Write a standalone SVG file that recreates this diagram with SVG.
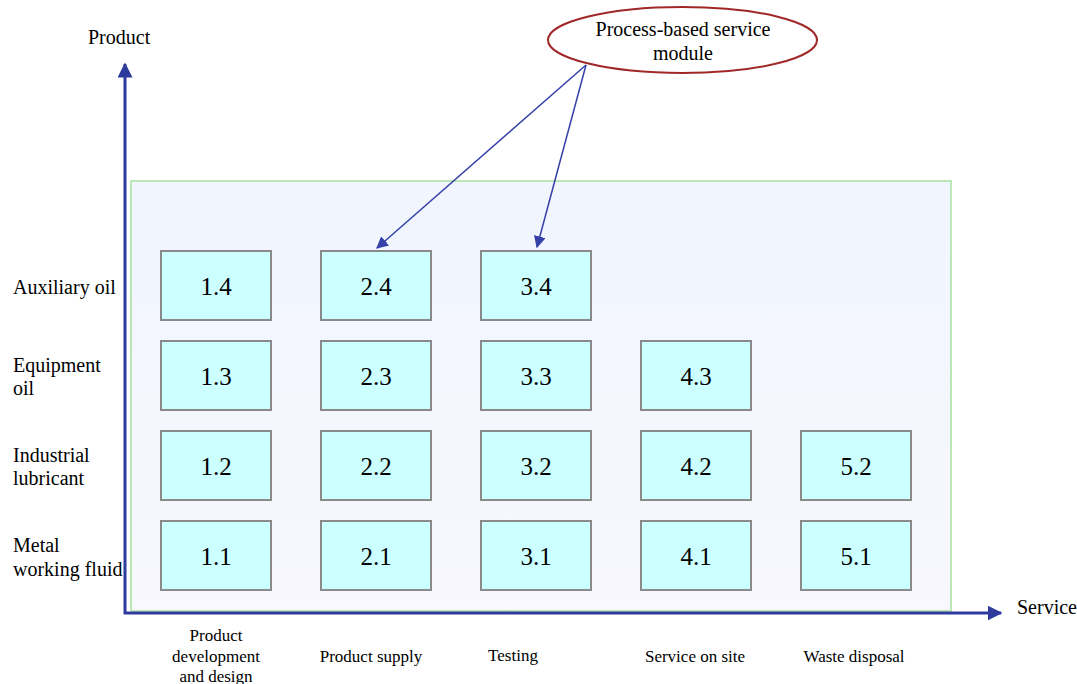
<svg xmlns="http://www.w3.org/2000/svg" width="1077" height="684" viewBox="0 0 1077 684" font-family="'Liberation Serif', 'DejaVu Serif', serif">
  <style>
    text { font-family: 'Liberation Serif', 'DejaVu Serif', serif; fill: #000; }
    .cell rect { fill: #ccffff; stroke: #8a8a8a; stroke-width: 2; }
    .cell text { font-size: 25px; text-anchor: middle; }
    .rowlab { font-size: 20px; }
    .collab { font-size: 17px; text-anchor: middle; }
    .axis { stroke: #2f3b9c; stroke-width: 3; fill: none; }
    .link { stroke: #3540a8; stroke-width: 1.5; fill: none; }
  </style>
  <defs>
    <linearGradient id="panelFill" x1="0" y1="0" x2="0" y2="1">
      <stop offset="0" stop-color="#f0f5fe"/>
      <stop offset="1" stop-color="#f8f8fe"/>
    </linearGradient>
    <marker id="axisHead" viewBox="0 0 10 10" refX="9" refY="5" markerWidth="5" markerHeight="5" orient="auto" markerUnits="strokeWidth">
      <path d="M0,0 L10,5 L0,10 z" fill="#2f3b9c"/>
    </marker>
    <marker id="linkHead" viewBox="0 0 10 10" refX="9" refY="5" markerWidth="8" markerHeight="8" orient="auto" markerUnits="strokeWidth">
      <path d="M0,0 L10,5 L0,10 z" fill="#3540a8"/>
    </marker>
  </defs>

  <!-- background panel -->
  <rect id="panel" x="131" y="181" width="820" height="430" fill="url(#panelFill)" stroke="#a8e0a0" stroke-width="1.5"/>

  <!-- axes -->
  <g id="axes">
    <line class="axis" x1="125" y1="614" x2="125" y2="64" marker-end="url(#axisHead)"/>
    <line class="axis" x1="124" y1="613" x2="1001" y2="613" marker-end="url(#axisHead)"/>
    <text x="88" y="44" font-size="20">Product</text>
    <text x="1017" y="614" font-size="20">Service</text>
  </g>

  <!-- row labels -->
  <g id="row-labels">
    <text class="rowlab" x="13" y="294">Auxiliary oil</text>
    <text class="rowlab" x="13" y="372">Equipment</text>
    <text class="rowlab" x="13" y="395">oil</text>
    <text class="rowlab" x="13" y="462">Industrial</text>
    <text class="rowlab" x="13" y="485">lubricant</text>
    <text class="rowlab" x="13" y="552">Metal</text>
    <text class="rowlab" x="13" y="576">working fluid</text>
  </g>

  <!-- column labels -->
  <g id="column-labels">
    <text class="collab" x="216" y="641">Product</text>
    <text class="collab" x="216" y="662">development</text>
    <text class="collab" x="216" y="682">and design</text>
    <text class="collab" x="371" y="662">Product supply</text>
    <text class="collab" x="513" y="661">Testing</text>
    <text class="collab" x="695" y="662">Service on site</text>
    <text class="collab" x="854" y="662">Waste disposal</text>
  </g>

  <!-- module cells -->
  <g id="m1-4" class="cell"><rect x="161" y="251" width="110" height="69"/><text x="216" y="295">1.4</text></g>
  <g id="m2-4" class="cell"><rect x="321" y="251" width="110" height="69"/><text x="376" y="295">2.4</text></g>
  <g id="m3-4" class="cell"><rect x="481" y="251" width="110" height="69"/><text x="536" y="295">3.4</text></g>

  <g id="m1-3" class="cell"><rect x="161" y="341" width="110" height="69"/><text x="216" y="385">1.3</text></g>
  <g id="m2-3" class="cell"><rect x="321" y="341" width="110" height="69"/><text x="376" y="385">2.3</text></g>
  <g id="m3-3" class="cell"><rect x="481" y="341" width="110" height="69"/><text x="536" y="385">3.3</text></g>
  <g id="m4-3" class="cell"><rect x="641" y="341" width="110" height="69"/><text x="696" y="385">4.3</text></g>

  <g id="m1-2" class="cell"><rect x="161" y="431" width="110" height="69"/><text x="216" y="475">1.2</text></g>
  <g id="m2-2" class="cell"><rect x="321" y="431" width="110" height="69"/><text x="376" y="475">2.2</text></g>
  <g id="m3-2" class="cell"><rect x="481" y="431" width="110" height="69"/><text x="536" y="475">3.2</text></g>
  <g id="m4-2" class="cell"><rect x="641" y="431" width="110" height="69"/><text x="696" y="475">4.2</text></g>
  <g id="m5-2" class="cell"><rect x="801" y="431" width="110" height="69"/><text x="856" y="475">5.2</text></g>

  <g id="m1-1" class="cell"><rect x="161" y="521" width="110" height="69"/><text x="216" y="565">1.1</text></g>
  <g id="m2-1" class="cell"><rect x="321" y="521" width="110" height="69"/><text x="376" y="565">2.1</text></g>
  <g id="m3-1" class="cell"><rect x="481" y="521" width="110" height="69"/><text x="536" y="565">3.1</text></g>
  <g id="m4-1" class="cell"><rect x="641" y="521" width="110" height="69"/><text x="696" y="565">4.1</text></g>
  <g id="m5-1" class="cell"><rect x="801" y="521" width="110" height="69"/><text x="856" y="565">5.1</text></g>

  <!-- callout -->
  <g id="callout">
    <ellipse cx="682.5" cy="40" rx="134.5" ry="33" fill="#fff" stroke="#a02828" stroke-width="2"/>
    <text x="683" y="36" font-size="20" text-anchor="middle">Process-based service</text>
    <text x="683" y="60" font-size="20" text-anchor="middle">module</text>
  </g>

  <!-- connectors -->
  <g id="connectors">
    <line class="link" x1="586" y1="65" x2="377" y2="248" marker-end="url(#linkHead)"/>
    <line class="link" x1="586" y1="65" x2="537" y2="247" marker-end="url(#linkHead)"/>
  </g>
</svg>
